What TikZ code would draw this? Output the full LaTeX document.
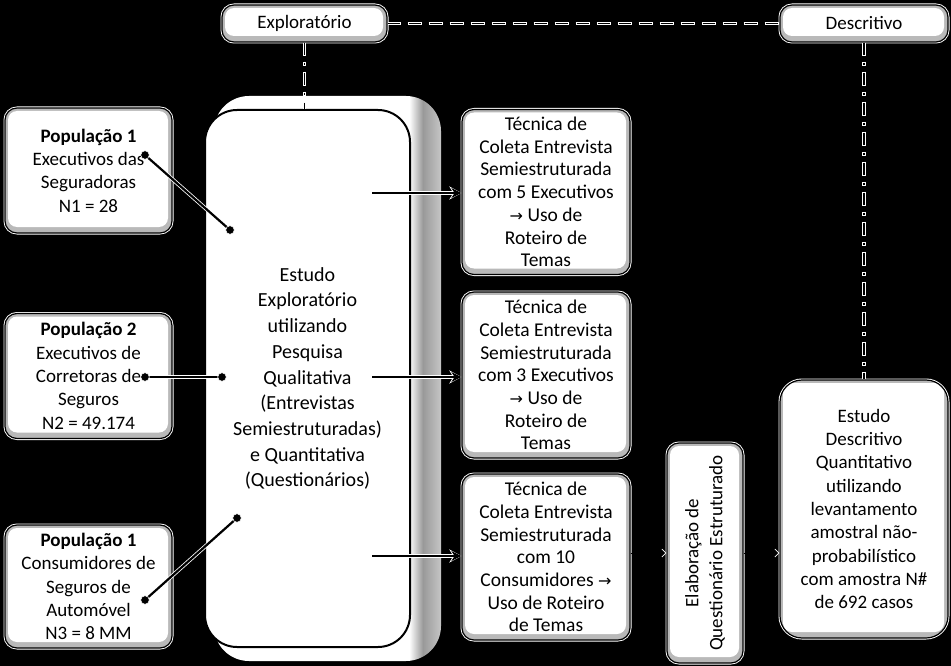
\documentclass[tikz,border=0pt]{standalone}
\usepackage{fontspec}
\setmainfont{Carlito}
\newfontfamily\arrowfont{DejaVu Sans}
\usetikzlibrary{arrows.meta,calc}
\newcommand{\rarr}{{\arrowfont\fontsize{16}{16}\selectfont →}}
\pgfdeclarehorizontalshading{bigshadow}{100bp}{color(0bp)=(white); color(68bp)=(white); color(71bp)=(gray!80); color(75bp)=(gray!45); color(100bp)=(gray!45)}
\begin{document}
\begin{tikzpicture}[x=1pt,y=-1pt,
  sbox/.style={draw=black, line width=1.2pt, fill=gray!55, rounded corners=12pt,
    inner sep=0pt, align=center, font=\fontsize{19}{23.3}\selectfont,
    preaction={draw=white, line width=3pt},
    path picture={\fill[white, rounded corners=9pt]
      ($(path picture bounding box.south west)+(3pt,6pt)$) rectangle
      ($(path picture bounding box.north east)+(-4pt,-3pt)$);}},
  wline/.style={line width=2.2pt, black, preaction={draw=white, line width=3.8pt}},
  dotc/.style={fill=black, draw=white, line width=0.6pt},
  hdash/.style={line width=1.6pt, black, dash pattern=on 12pt off 9pt,
    preaction={draw=white, line width=3.2pt, dash pattern=on 14pt off 7pt, dash phase=1pt}},
  vdash/.style={line width=1.6pt, black, dash pattern=on 12pt off 8pt on 2pt off 8pt,
    preaction={draw=white, line width=3.2pt, dash pattern=on 14pt off 6pt on 4pt off 6pt, dash phase=1pt}},
  arr/.style={wline, -{Stealth[length=10pt,width=10pt]},
    preaction={draw=white, line width=3.8pt, -{Stealth[length=12pt,width=13pt]}}},
  smallarr/.style={black, line width=1pt, -{Straight Barb[length=4pt,width=8pt,color=white,line width=0.7pt]}}
]
\useasboundingbox (0,0) rectangle (951,666);
\fill[black] (0,0) rectangle (951,666);

% header boxes
\node[sbox, minimum width=165, minimum height=37] (expl) at (304.5,23.5) {Exploratório};
\node[sbox, minimum width=168, minimum height=37] (descr) at (864,23.5) {Descritivo};

% population boxes
\node[sbox, minimum width=167, minimum height=125] (pop1) at (88.5,170.5)
  {\textbf{População 1}\\Executivos das\\Seguradoras\\N1 = 28};
\node[sbox, minimum width=167, minimum height=125] (pop2) at (88.5,376)
  {\textbf{População 2}\\Executivos de\\Corretoras de\\Seguros\\N2 = 49.174};
\node[sbox, minimum width=167, minimum height=123] (pop3) at (88.5,586.5)
  {\textbf{População 1}\\Consumidores de\\Seguros de\\Automóvel\\N3 = 8 MM};

% big box with shadow
\shade[rounded corners=35pt, shading=bigshadow] (214,96) rectangle (441,661);
\node[draw=black, line width=2pt, fill=white, rounded corners=32pt, minimum width=205,
  minimum height=537, inner sep=0pt, align=center, font=\fontsize{20}{25.7}\selectfont]
  (big) at (307.5,378.5)
  {Estudo\\Exploratório\\utilizando\\Pesquisa\\Qualitativa\\(Entrevistas\\Semiestruturadas)\\e Quantitativa\\(Questionários)};

% technique boxes
\node[sbox, minimum width=168, minimum height=165, font=\fontsize{19.5}{22.7}\selectfont] (tec1) at (546,192)
  {Técnica de\\Coleta Entrevista\\Semiestruturada\\com 5 Executivos\\\rarr{} Uso de\\Roteiro de\\Temas};
\node[sbox, minimum width=168, minimum height=166, font=\fontsize{19.5}{22.7}\selectfont] (tec2) at (546,375)
  {Técnica de\\Coleta Entrevista\\Semiestruturada\\com 3 Executivos\\\rarr{} Uso de\\Roteiro de\\Temas};
\node[sbox, minimum width=168, minimum height=166, font=\fontsize{19.5}{22.7}\selectfont] (tec3) at (546,557)
  {Técnica de\\Coleta Entrevista\\Semiestruturada\\com 10\\Consumidores \rarr\\Uso de Roteiro\\de Temas};

% elaboration box
\node[sbox, minimum width=76, minimum height=220] (elab) at (705,553) {};
\node[rotate=90, align=center, font=\fontsize{19}{24}\selectfont] (elabtxt) at (elab.center)
  {Elaboração de\\Questionário Estruturado};

% descriptive study box
\node[sbox, rounded corners=22pt, minimum width=168, minimum height=258] (desc) at (864,509)
  {Estudo\\Descritivo\\Quantitativo\\utilizando\\levantamento\\amostral não-\\probabilístico\\com amostra N\#\\de 692 casos};

% dashed connectors
\draw[hdash] (expl.east) -- (descr.west);
\draw[vdash] (expl.south) -- (big.north -| expl.south);
\draw[vdash] (descr.south) -- (desc.north);

% population connectors
\coordinate (p1a) at (145,155); \coordinate (p1b) at (230,230);
\coordinate (p2a) at (145,377); \coordinate (p2b) at (222,377);
\coordinate (p3a) at (145,600); \coordinate (p3b) at (237,518);
\draw[wline] (p1a) -- (p1b);
\draw[wline] (p2a) -- (p2b);
\draw[wline] (p3a) -- (p3b);
\foreach \c in {p1a,p1b,p2a,p2b,p3a,p3b} \filldraw[dotc] (\c) circle (4.3pt);

% arrows to technique boxes
\coordinate (a1) at (372,193);
\coordinate (a2) at (372,377);
\coordinate (a3) at (372,556);
\draw[arr] (a1) -- (a1 -| tec1.west);
\draw[arr] (a2) -- (a2 -| tec2.west);
\draw[arr] (a3) -- (a3 -| tec3.west);

% small arrows
\draw[smallarr] (tec3.east |- elab.west) -- (elab.west);
\draw[smallarr] (elab.east) -- (elab.east -| desc.west);
\end{tikzpicture}
\end{document}
